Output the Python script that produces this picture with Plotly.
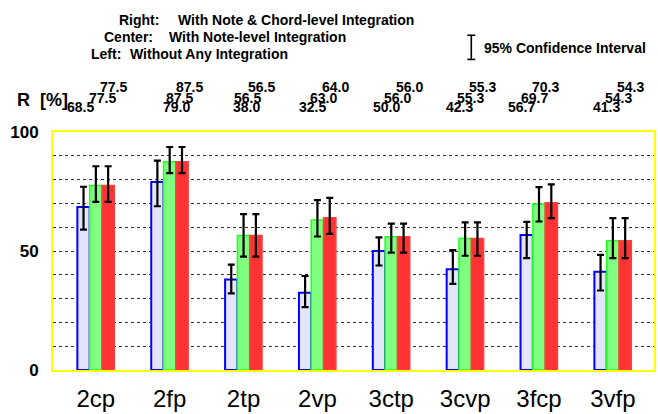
import plotly.graph_objects as go

# ---- data -------------------------------------------------------------
categories = ["2cp", "2fp", "2tp", "2vp", "3ctp", "3cvp", "3fcp", "3vfp"]

# recognition rate R [%]
left_vals = [68.5, 79.0, 38.0, 32.5, 50.0, 42.3, 56.7, 41.3]    # without any integration
center_vals = [77.5, 87.5, 56.5, 63.0, 56.0, 55.3, 69.7, 54.3]  # note-level integration
right_vals = [77.5, 87.5, 56.5, 64.0, 56.0, 55.3, 70.3, 54.3]   # note & chord-level integration

# 95% confidence interval half-widths (upper / lower)
left_err_up = [8.5, 9.0, 6.3, 7.0, 5.7, 8.1, 5.5, 7.1]
left_err_dn = [9.5, 10.2, 5.8, 6.1, 6.1, 6.1, 9.7, 7.9]
center_err_up = [8.1, 6.2, 9.0, 8.4, 5.5, 6.7, 7.1, 9.5]
center_err_dn = [6.9, 4.8, 8.9, 6.9, 6.7, 7.3, 7.3, 7.3]
right_err_up = [8.1, 6.2, 9.0, 8.3, 5.5, 6.7, 7.7, 9.5]
right_err_dn = [6.9, 4.8, 8.9, 6.8, 6.7, 7.3, 6.5, 7.3]

y_ticks = [0, 50, 100]

# ---- geometry of the plotting area (pixels) ---------------------------
FIG_W, FIG_H = 658, 414
M_L, M_R, M_T, M_B = 53, 2, 132, 36
PW = FIG_W - M_L - M_R
PH = FIG_H - M_T - M_B


def px_x(px):
    return (px - M_L) / PW


def px_y(py):
    return (M_T + PH - py) / PH


FONT = "Liberation Sans, Arial, Helvetica, sans-serif"
xs = list(range(len(categories)))

fig = go.Figure()


def add_series(vals, up, dn, fill, line, lw):
    fig.add_trace(go.Bar(
        x=xs, y=vals,
        marker=dict(color=fill, line=dict(color=line, width=lw)),
        error_y=dict(type="data", symmetric=False, array=up, arrayminus=dn,
                     color="black", thickness=2.2, width=3.5),
        showlegend=False, hoverinfo="skip",
    ))


add_series(left_vals, left_err_up, left_err_dn, "#e4e4fa", "#0000ff", 2)
add_series(center_vals, center_err_up, center_err_dn, "#80ff80", "#22ff22", 1.5)
add_series(right_vals, right_err_up, right_err_dn, "#ff3333", "#ff4040", 1.5)

# ---- value labels stacked above the plot ------------------------------
# horizontal pixel offsets of the label column for each group (left, center, right)
label_dx = [(-15, 7, 18), (7, 10, 20), (3, 4, 18), (-5, 6, 18),
            (-5, 6, 18), (-6, 5, 17), (-18, -5, 6), (-6, 6, 18)]
row_y = (106, 96.5, 85.5)   # pixel rows: left (bottom), center, right (top)
for i in xs:
    for k, vals in enumerate((left_vals, center_vals, right_vals)):
        fig.add_annotation(
            x=i, xref="x", xshift=label_dx[i][k],
            y=px_y(row_y[k]), yref="paper",
            text=f"{vals[i]:.1f}", showarrow=False,
            xanchor="center", yanchor="middle",
            font=dict(family=FONT, size=14, color="black", weight="bold"),
        )

fig.add_annotation(x=px_x(15), y=px_y(99), xref="paper", yref="paper",
                   text="R  [%]", showarrow=False, xanchor="left", yanchor="middle",
                   font=dict(family=FONT, size=18, color="black", weight="bold"))

# ---- key text ---------------------------------------------------------
key_rows = [
    ("Right:", 117, "With Note & Chord-level Integration", 176, 15),
    ("Center:", 102, "With Note-level Integration", 167, 33),
    ("Left:", 89, "Without Any Integration", 128, 50),
]
for lab, lx, desc, dx, yy in key_rows:
    for txt, xx in ((lab, lx), (desc, dx)):
        fig.add_annotation(x=px_x(xx), y=px_y(yy + 1), xref="paper", yref="paper",
                           text=txt, showarrow=False, xanchor="left", yanchor="middle",
                           font=dict(family=FONT, size=14, color="black", weight="bold"))

fig.add_annotation(x=px_x(483), y=px_y(45), xref="paper", yref="paper",
                   text="95% Confidence Interval", showarrow=False,
                   xanchor="left", yanchor="middle",
                   font=dict(family=FONT, size=14, color="black", weight="bold"))

# I-beam symbol for the confidence interval
ib_x, ib_top, ib_bot, ib_half = 472.7, 32, 57, 4
for x0, y0, x1, y1 in ((ib_x, ib_top, ib_x, ib_bot),
                       (ib_x - ib_half, ib_top, ib_x + ib_half, ib_top),
                       (ib_x - ib_half, ib_bot, ib_x + ib_half, ib_bot)):
    fig.add_shape(type="line", xref="paper", yref="paper",
                  x0=px_x(x0), y0=px_y(y0), x1=px_x(x1), y1=px_y(y1),
                  line=dict(color="black", width=1.6))

# ---- layout -----------------------------------------------------------
fig.update_layout(
    width=FIG_W, height=FIG_H,
    margin=dict(l=M_L, r=M_R, t=M_T, b=M_B, pad=0),
    paper_bgcolor="white", plot_bgcolor="white",
    barmode="group", bargap=0.5, bargroupgap=0,
    font=dict(family=FONT, color="black"),
)
fig.update_xaxes(
    range=[-0.58, 7.557], tickvals=xs, ticktext=categories,
    showgrid=False, zeroline=False, ticks="", ticklen=0,
    tickfont=dict(family=FONT, size=24, color="black"),
    showline=True, linecolor="#ffff00", linewidth=2, mirror=True,
    layer="below traces", ticklabelstandoff=6,
)
fig.update_yaxes(
    range=[0, 100], tickvals=y_ticks, showgrid=False, zeroline=False,
    ticks="", ticklen=0, ticklabelstandoff=9,
    tickfont=dict(family=FONT, size=17, color="black", weight="bold"),
    showline=True, linecolor="#ffff00", linewidth=2, mirror=True,
    layer="below traces",
    minor=dict(dtick=10, showgrid=True, gridcolor="#333333", gridwidth=1,
               griddash="dot", ticks=""),
)

fig.write_html("out.html")
